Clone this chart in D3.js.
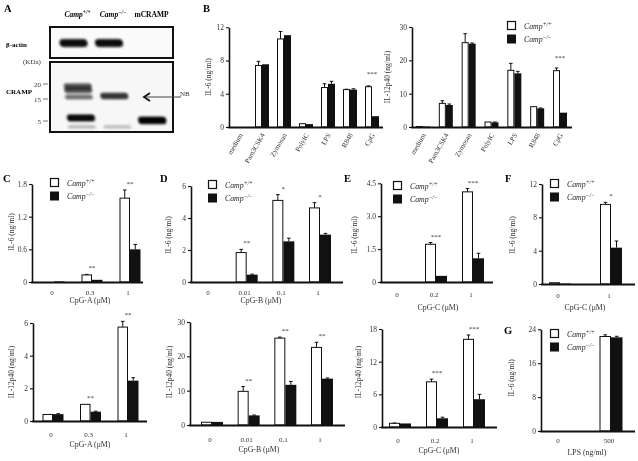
<!DOCTYPE html>
<html>
<head>
<meta charset="utf-8">
<script src="https://cdn.jsdelivr.net/npm/d3@7"></script>
<style>
body { margin: 0; background: #fff; }
svg { display: block; will-change: transform; }
</style>
</head>
<body>
<script>
var FONT = '"Liberation Serif","Times New Roman",Times,serif';

// ---- A: western blot ----
var blotLanes = ["wt", "ko", "peptide"];
var laneLabel = ["Camp", "Camp", "mCRAMP"];
var laneSup = ["+/+", "\u2212/\u2212", ""];
var actinLanes = ["wt", "ko"];
var markerKDa = [20, 15, 5];
var crampBandLane = ["wt", "wt", "wt", "wt", "wt", "ko", "ko", "peptide"];
var crampBandKDa = [19.3, 18.0, 15.7, 6.4, 2.3, 16.0, 2.3, 5.3];
var crampBandLevel = [0.6, 0.65, 0.45, 0.95, 0.12, 0.75, 0.1, 1];

// ---- B: TLR ligands ----
var stimuli = ["medium", "Pam3CSK4", "Zymosan", "PolyIC", "LPS", "R848", "CpG"];
var stimIL6WT = [0, 7.4, 10.6, 0.4, 4.75, 4.5, 4.85];
var stimIL6WTErr = [0, 0.5, 0.9, 0, 0.45, 0.05, 0.1];
var stimIL6KO = [0, 7.55, 11.05, 0.35, 5.2, 4.5, 1.3];
var stimIL6KOErr = [0, 0, 0, 0, 0.3, 0.1, 0];
var stimIL6Sig = ["", "", "", "", "", "", "***"];
var stimIL12WT = [0.15, 7.1, 25.3, 1.5, 17.0, 6.1, 16.9];
var stimIL12WTErr = [0, 0.8, 2.7, 0, 2.1, 0, 0.8];
var stimIL12KO = [0.15, 6.6, 25.0, 1.4, 16.1, 5.6, 4.3];
var stimIL12KOErr = [0, 0.3, 0.2, 0.1, 0.6, 0.1, 0];
var stimIL12Sig = ["", "", "", "", "", "", "***"];

// ---- C: CpG-A ----
var cpgADose = ["0", "0.3", "1"];
var cpgAIL6WT = [0, 0.13, 1.54];
var cpgAIL6WTErr = [0, 0.01, 0.15];
var cpgAIL6KO = [0.01, 0.04, 0.6];
var cpgAIL6KOErr = [0, 0, 0.09];
var cpgAIL6Sig = ["", "**", "**"];
var cpgAIL12WT = [0.4, 1.02, 5.75];
var cpgAIL12WTErr = [0, 0, 0.35];
var cpgAIL12KO = [0.42, 0.57, 2.47];
var cpgAIL12KOErr = [0.03, 0.03, 0.18];
var cpgAIL12Sig = ["", "**", "**"];

// ---- D: CpG-B ----
var cpgBDose = ["0", "0.01", "0.1", "1"];
var cpgBIL6WT = [0, 1.84, 5.1, 4.63];
var cpgBIL6WTErr = [0, 0.2, 0.36, 0.33];
var cpgBIL6KO = [0, 0.46, 2.54, 2.96];
var cpgBIL6KOErr = [0, 0.03, 0.2, 0.08];
var cpgBIL6Sig = ["", "**", "*", "*"];
var cpgBIL12WT = [0.8, 9.8, 25.3, 22.6];
var cpgBIL12WTErr = [0, 1.4, 0.3, 1.5];
var cpgBIL12KO = [0.9, 2.8, 11.7, 13.5];
var cpgBIL12KOErr = [0, 0.1, 1.0, 0.2];
var cpgBIL12Sig = ["", "**", "**", "**"];

// ---- E: CpG-C ----
var cpgCDose = ["0", "0.2", "1"];
var cpgCIL6WT = [0, 1.72, 4.11];
var cpgCIL6WTErr = [0, 0.08, 0.15];
var cpgCIL6KO = [0, 0.28, 1.08];
var cpgCIL6KOErr = [0, 0, 0.23];
var cpgCIL6Sig = ["", "***", "***"];
var cpgCIL12WT = [0.68, 8.3, 16.1];
var cpgCIL12WTErr = [0.05, 0.5, 0.8];
var cpgCIL12KO = [0.65, 1.6, 5.1];
var cpgCIL12KOErr = [0, 0.2, 0.9];
var cpgCIL12Sig = ["", "***", "***"];

// ---- F: CpG-C, IL-6 ----
var fDose = ["0", "1"];
var fIL6WT = [0.15, 9.55];
var fIL6WTErr = [0, 0.25];
var fIL6KO = [0.05, 4.36];
var fIL6KOErr = [0, 0.8];
var fIL6Sig = ["", "*"];

// ---- G: LPS, IL-6 ----
var lpsDose = ["0", "500"];
var lpsIL6WT = [0, 22.3];
var lpsIL6WTErr = [0, 0.4];
var lpsIL6KO = [0, 22.1];
var lpsIL6KOErr = [0, 0.25];

var oneDec = function(d) { return d === 0 ? "0" : d3.format(".1f")(d); };

var svg = d3.select("body").append("svg")
	.attr("width", 638).attr("height", 461)
	.style("font-family", FONT);

var letter = function(t, x, y) {
	svg.append("text").attr("x", x).attr("y", y)
		.attr("font-size", 10.5).attr("font-weight", "bold").text(t);
};

var campText = function(sel, sup, size) {
	sel.append("tspan").text("Camp");
	sel.append("tspan").attr("font-size", size * 0.72).attr("dy", -size * 0.38).text(sup);
};

var legend = function(x, y) {
	var g = svg.append("g").attr("transform", "translate(" + x + "," + y + ")");
	g.append("rect").attr("x", 0.5).attr("y", 0.5).attr("width", 8).attr("height", 8)
		.attr("fill", "#fff").attr("stroke", "#111").attr("stroke-width", 1.2);
	g.append("rect").attr("x", 0).attr("y", 13.5).attr("width", 9).attr("height", 9).attr("fill", "#111");
	campText(g.append("text").attr("x", 17).attr("y", 7.5).attr("font-size", 7.8).attr("font-style", "italic").attr("fill", "#222"), "+/+", 7.8);
	campText(g.append("text").attr("x", 17).attr("y", 21).attr("font-size", 7.8).attr("font-style", "italic").attr("fill", "#222"), "\u2212/\u2212", 7.8);
};

var barChart = function(o) {
	var g = svg.append("g");
	var x = d3.scalePoint().domain(o.cats).range([o.c0, o.cN]);
	var y = d3.scaleLinear().domain([0, o.yMax]).range([o.base, o.top]);
	var bw = o.barW;
	var rows = o.cats.map(function(c, i) {
		return { c: c, wt: o.wt[i], wtErr: o.wtErr[i], ko: o.ko[i], koErr: o.koErr[i], sig: o.sig ? o.sig[i] : "" };
	});

	var bars = g.selectAll(".pair").data(rows).enter().append("g");
	bars.append("rect")
		.attr("x", function(d) { return x(d.c) - bw + 0.5; })
		.attr("y", function(d) { return y(d.wt); })
		.attr("width", bw - 1)
		.attr("height", function(d) { return o.base - y(d.wt); })
		.attr("fill", "#fff").attr("stroke", "#111").attr("stroke-width", 1);
	bars.append("rect")
		.attr("x", function(d) { return x(d.c); })
		.attr("y", function(d) { return y(d.ko); })
		.attr("width", bw)
		.attr("height", function(d) { return o.base - y(d.ko); })
		.attr("fill", "#111");

	var errs = [];
	rows.forEach(function(d) {
		if (d.wtErr > 0) errs.push({ cx: x(d.c) - bw / 2, v: d.wt, e: d.wtErr });
		if (d.koErr > 0) errs.push({ cx: x(d.c) + bw / 2, v: d.ko, e: d.koErr });
	});
	var eb = g.selectAll(".err").data(errs).enter().append("g").attr("stroke", "#111").attr("stroke-width", 1);
	eb.append("line")
		.attr("x1", function(d) { return d.cx; }).attr("x2", function(d) { return d.cx; })
		.attr("y1", function(d) { return y(d.v); }).attr("y2", function(d) { return y(d.v + d.e); });
	eb.append("line")
		.attr("x1", function(d) { return d.cx - 1.8; }).attr("x2", function(d) { return d.cx + 1.8; })
		.attr("y1", function(d) { return y(d.v + d.e); }).attr("y2", function(d) { return y(d.v + d.e); });

	g.selectAll(".sig").data(rows.filter(function(d) { return d.sig; })).enter().append("text")
		.attr("x", function(d) { return x(d.c); })
		.attr("y", function(d) { return y(Math.max(d.wt + d.wtErr, d.ko + d.koErr)) - (o.sigGap || 4); })
		.attr("text-anchor", "middle").attr("font-size", 7).attr("fill", "#333")
		.text(function(d) { return d.sig; });

	g.append("g").attr("transform", "translate(" + o.axisX + ",0)")
		.call(d3.axisLeft(y).tickValues(o.ticks).tickSize(3).tickSizeOuter(0).tickPadding(2)
			.tickFormat(o.fmt || d3.format("d")))
		.call(function(a) {
			a.attr("font-family", FONT).attr("font-size", 7.5);
			a.select(".domain").attr("stroke", "#111").attr("stroke-width", 1.6);
			a.selectAll(".tick line").attr("stroke", "#111").attr("stroke-width", 1.1);
			a.selectAll(".tick text").attr("fill", "#333");
		});

	g.append("line").attr("x1", o.axisX - 0.8).attr("x2", o.axisEnd)
		.attr("y1", o.base + 0.5).attr("y2", o.base + 0.5)
		.attr("stroke", "#111").attr("stroke-width", 1.8);

	if (o.rotate) {
		g.selectAll(".xl").data(o.cats).enter().append("text")
			.attr("transform", function(d) { return "translate(" + (x(d) + 3) + "," + (o.base + 8) + ") rotate(-60)"; })
			.attr("text-anchor", "end").attr("font-size", 7).attr("fill", "#333")
			.text(function(d) { return d; });
	} else {
		g.selectAll(".xl").data(o.cats).enter().append("text")
			.attr("x", function(d) { return x(d) - 2; }).attr("y", o.base + o.labGap)
			.attr("text-anchor", "middle").attr("font-size", 7).attr("fill", "#333")
			.text(function(d) { return d; });
		g.append("text").attr("x", o.titleX).attr("y", o.titleY)
			.attr("text-anchor", "middle").attr("font-size", 7.8).attr("fill", "#333")
			.text(o.title);
	}

	g.append("text")
		.attr("transform", "translate(" + o.yLabX + "," + o.yLabY + ") rotate(-90)")
		.attr("text-anchor", "middle").attr("font-size", 7.5).attr("fill", "#333")
		.text(o.yLab);
};

// ---------- panel A ----------
letter("A", 4, 12);
(function() {
	var g = svg.append("g");
	var laneX = d3.scalePoint().domain(blotLanes).range([73.5, 144.5]);
	var kda = d3.scaleLinear().domain([5, 15, 20]).range([121, 99, 84]);

	blotLanes.forEach(function(l, i) {
		var t = g.append("text").attr("x", laneX(l) + (i === 2 ? 7 : 4)).attr("y", 17)
			.attr("text-anchor", "middle").attr("font-size", 7.5).attr("font-weight", "bold")
			.attr("font-style", i < 2 ? "italic" : "normal");
		if (laneSup[i]) campText(t, laneSup[i], 7.5); else t.text(laneLabel[i]);
	});

	var defs = svg.append("defs");
	defs.append("filter").attr("id", "blur").attr("x", "-20%").attr("y", "-100%").attr("width", "140%").attr("height", "300%")
		.append("feGaussianBlur").attr("stdDeviation", 0.8);

	g.append("rect").attr("x", 50).attr("y", 27).attr("width", 123).attr("height", 31)
		.attr("fill", "#fafafa").attr("stroke", "#111").attr("stroke-width", 2);
	g.append("rect").attr("x", 50).attr("y", 62).attr("width", 123).attr("height", 70)
		.attr("fill", "#f7f7f7").attr("stroke", "#111").attr("stroke-width", 2);

	var skew = "translate(0,43) skewX(5.7) translate(0,-43)";
	g.append("g").attr("transform", skew).attr("filter", "url(#blur)")
		.selectAll("rect").data(actinLanes).enter().append("rect")
		.attr("x", function(d) { return laneX(d) - 14; }).attr("y", 39)
		.attr("width", 28).attr("height", 8).attr("rx", 4)
		.attr("fill", "#0a0a0a");

	var bands = crampBandKDa.map(function(k, i) { return { lane: crampBandLane[i], k: k, lv: crampBandLevel[i] }; });
	g.append("g").attr("transform", skew).attr("filter", "url(#blur)")
		.selectAll("rect").data(bands).enter().append("rect")
		.attr("x", function(d) { return laneX(d.lane) - 14; })
		.attr("y", function(d) { return kda(d.k) - (1.5 + d.lv * 2.2); })
		.attr("width", 28)
		.attr("height", function(d) { return 3 + d.lv * 4.4; })
		.attr("rx", 3)
		.attr("fill", "#000").attr("opacity", function(d) { return 0.15 + d.lv * 0.85; });

	g.selectAll(".mk").data(markerKDa).enter().append("text")
		.attr("x", 41).attr("y", function(d) { return kda(d) + 2.5; })
		.attr("text-anchor", "end").attr("font-size", 7).attr("fill", "#333")
		.text(function(d) { return d; });
	g.selectAll(".mt").data(markerKDa).enter().append("line")
		.attr("x1", 43).attr("x2", 48)
		.attr("y1", function(d) { return kda(d); }).attr("y2", function(d) { return kda(d); })
		.attr("stroke", "#555").attr("stroke-width", 0.8);

	g.append("text").attr("x", 6).attr("y", 47).attr("font-size", 7).attr("font-weight", "bold").text("\u03b2-actin");
	g.append("text").attr("x", 23).attr("y", 64).attr("font-size", 7).attr("fill", "#333").text("(KDa)");
	g.append("text").attr("x", 6).attr("y", 93.5).attr("font-size", 7).attr("font-weight", "bold").text("CRAMP");

	g.append("line").attr("x1", 181).attr("x2", 144).attr("y1", 97).attr("y2", 97)
		.attr("stroke", "#444").attr("stroke-width", 1.2);
	g.append("path").attr("d", "M150,93 L144,97 L150,101")
		.attr("fill", "none").attr("stroke", "#111").attr("stroke-width", 1.8);
	g.append("text").attr("x", 180).attr("y", 95.5).attr("font-size", 7).attr("fill", "#333").text("NB");
})();

// ---------- panel B ----------
letter("B", 203, 12);
barChart({ cats: stimuli, wt: stimIL6WT, wtErr: stimIL6WTErr, ko: stimIL6KO, koErr: stimIL6KOErr, sig: stimIL6Sig,
	axisX: 229, axisEnd: 383, c0: 240, cN: 372, barW: 7, base: 127, top: 27.3, yMax: 12, ticks: [0, 4, 8, 12],
	rotate: true, sigGap: 10, yLab: "IL-6 (ng/ml)", yLabX: 211, yLabY: 77 });
barChart({ cats: stimuli, wt: stimIL12WT, wtErr: stimIL12WTErr, ko: stimIL12KO, koErr: stimIL12KOErr, sig: stimIL12Sig,
	axisX: 412, axisEnd: 572, c0: 423, cN: 560, barW: 7, base: 127, top: 27, yMax: 30, ticks: [0, 10, 20, 30],
	rotate: true, sigGap: 8, yLab: "IL-12p40 (ng/ml)", yLabX: 390, yLabY: 77 });
legend(507, 21);

// ---------- panel C ----------
letter("C", 3, 182);
barChart({ cats: cpgADose, wt: cpgAIL6WT, wtErr: cpgAIL6WTErr, ko: cpgAIL6KO, koErr: cpgAIL6KOErr, sig: cpgAIL6Sig,
	axisX: 32, axisEnd: 143, c0: 54, cN: 130, barW: 10.5, base: 282, top: 184, yMax: 1.8, ticks: [0, 0.6, 1.2, 1.8], fmt: oneDec,
	labGap: 12.5, title: "CpG-A (\u03bcM)", titleX: 90, titleY: 303, yLab: "IL-6 (ng/ml)", yLabX: 14, yLabY: 232 });
legend(50, 178);
barChart({ cats: cpgADose, wt: cpgAIL12WT, wtErr: cpgAIL12WTErr, ko: cpgAIL12KO, koErr: cpgAIL12KOErr, sig: cpgAIL12Sig,
	axisX: 33, axisEnd: 147, c0: 53, cN: 128, barW: 10.5, base: 421, top: 323, yMax: 6, ticks: [0, 2, 4, 6],
	labGap: 16, title: "CpG-A (\u03bcM)", titleX: 90, titleY: 447, yLab: "IL-12p40 (ng/ml)", yLabX: 14, yLabY: 372 });

// ---------- panel D ----------
letter("D", 160, 182);
barChart({ cats: cpgBDose, wt: cpgBIL6WT, wtErr: cpgBIL6WTErr, ko: cpgBIL6KO, koErr: cpgBIL6KOErr, sig: cpgBIL6Sig,
	axisX: 191, axisEnd: 343, c0: 210, cN: 320, barW: 11, base: 282, top: 186, yMax: 6, ticks: [0, 2, 4, 6],
	labGap: 12.5, title: "CpG-B (\u03bcM)", titleX: 261, titleY: 303, yLab: "IL-6 (ng/ml)", yLabX: 171, yLabY: 235 });
legend(208, 180);
barChart({ cats: cpgBDose, wt: cpgBIL12WT, wtErr: cpgBIL12WTErr, ko: cpgBIL12KO, koErr: cpgBIL12KOErr, sig: cpgBIL12Sig,
	axisX: 190, axisEnd: 345, c0: 212, cN: 322, barW: 11, base: 425, top: 322, yMax: 30, ticks: [0, 10, 20, 30],
	labGap: 16.5, title: "CpG-B (\u03bcM)", titleX: 259, titleY: 452, yLab: "IL-12p40 (ng/ml)", yLabX: 172, yLabY: 372 });

// ---------- panel E ----------
letter("E", 344, 182);
barChart({ cats: cpgCDose, wt: cpgCIL6WT, wtErr: cpgCIL6WTErr, ko: cpgCIL6KO, koErr: cpgCIL6KOErr, sig: cpgCIL6Sig,
	axisX: 381, axisEnd: 493, c0: 399, cN: 473, barW: 11, base: 282, top: 183.3, yMax: 4.5, ticks: [0, 1.5, 3, 4.5], fmt: oneDec,
	labGap: 15, title: "CpG-C (\u03bcM)", titleX: 438, titleY: 310, yLab: "IL-6 (ng/ml)", yLabX: 357, yLabY: 235 });
legend(393, 181);
barChart({ cats: cpgCDose, wt: cpgCIL12WT, wtErr: cpgCIL12WTErr, ko: cpgCIL12KO, koErr: cpgCIL12KOErr, sig: cpgCIL12Sig,
	axisX: 382, axisEnd: 497, c0: 400, cN: 474, barW: 11, base: 427, top: 329, yMax: 18, ticks: [0, 6, 12, 18],
	labGap: 15.5, title: "CpG-C (\u03bcM)", titleX: 439, titleY: 453, yLab: "IL-12p40 (ng/ml)", yLabX: 361, yLabY: 372 });

// ---------- panel F ----------
letter("F", 505, 182);
barChart({ cats: fDose, wt: fIL6WT, wtErr: fIL6WTErr, ko: fIL6KO, koErr: fIL6KOErr, sig: fIL6Sig,
	axisX: 542, axisEnd: 635, c0: 560, cN: 611, barW: 11, base: 284, top: 184, yMax: 12, ticks: [0, 4, 8, 12],
	labGap: 13.5, title: "CpG-C (\u03bcM)", titleX: 585, titleY: 310, yLab: "IL-6 (ng/ml)", yLabX: 515, yLabY: 235 });
legend(550, 179);

// ---------- panel G ----------
letter("G", 504, 334);
barChart({ cats: lpsDose, wt: lpsIL6WT, wtErr: lpsIL6WTErr, ko: lpsIL6KO, koErr: lpsIL6KOErr,
	axisX: 541, axisEnd: 635, c0: 560, cN: 611, barW: 11.5, base: 431, top: 329.3, yMax: 24, ticks: [0, 8, 16, 24],
	labGap: 12, title: "LPS (ng/ml)", titleX: 587, titleY: 455, yLab: "IL-6 (ng/ml)", yLabX: 514, yLabY: 378 });
legend(550, 329);
</script>
</body>
</html>
